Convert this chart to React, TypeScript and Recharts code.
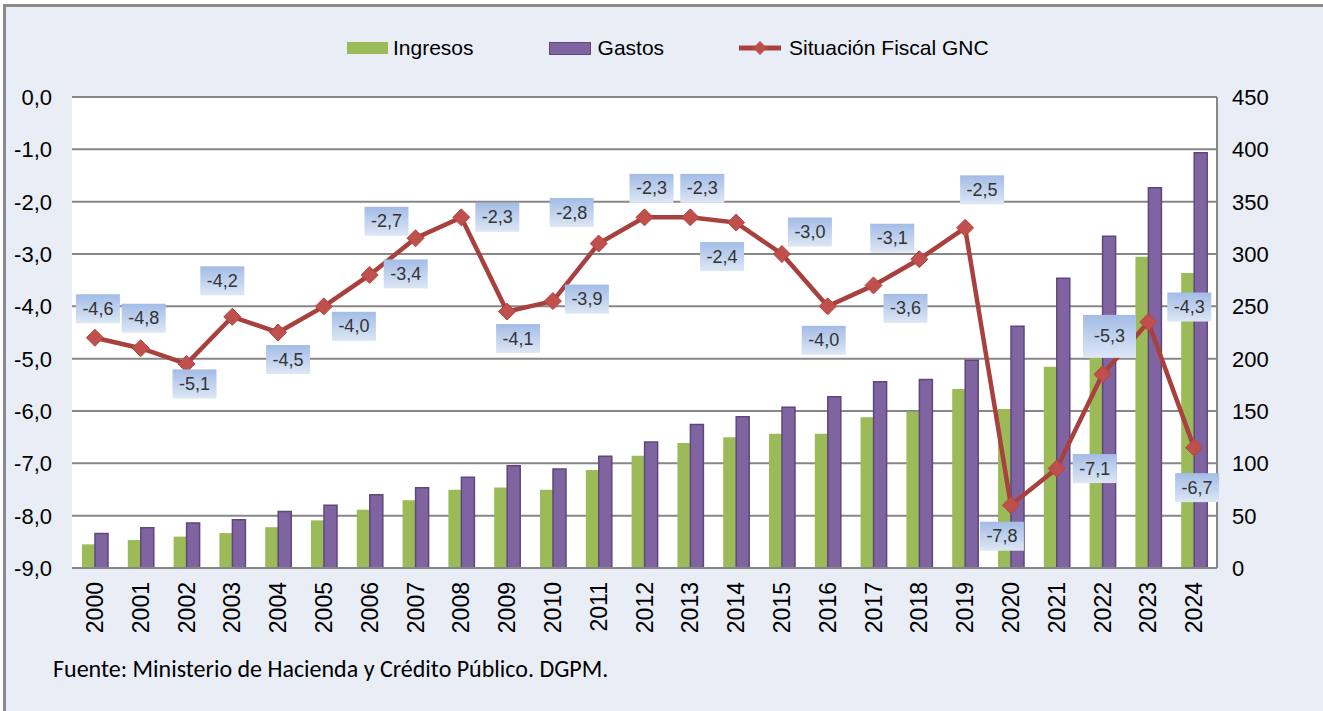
import { ComposedChart, Bar, Line, XAxis, YAxis, CartesianGrid } from 'recharts'

const YEARS = [
  '2000', '2001', '2002', '2003', '2004', '2005', '2006', '2007', '2008', '2009',
  '2010', '2011', '2012', '2013', '2014', '2015', '2016', '2017', '2018', '2019',
  '2020', '2021', '2022', '2023', '2024',
]

// billones de pesos, eje derecho
const INGRESOS = [
  22.6, 26.7, 30, 33.4, 39, 45.5, 55.7, 64.7, 74.8, 77,
  74.8, 93.6, 107.3, 119.4, 125, 128.3, 128.3, 144, 149.3, 171,
  152, 192.3, 240, 297.4, 281.8,
]
const GASTOS = [
  33, 38.5, 43, 46, 54, 60, 70, 76.7, 86.6, 97.7,
  94.6, 106.7, 120.4, 137, 144.5, 153.5, 163.7, 178, 180, 198.5,
  231, 276.8, 317, 363.3, 396.8,
]

// % del PIB, eje izquierdo
const SITUACION = [
  -4.6, -4.8, -5.1, -4.2, -4.5, -4.0, -3.4, -2.7, -2.3, -4.1,
  -3.9, -2.8, -2.3, -2.3, -2.4, -3.0, -4.0, -3.6, -3.1, -2.5,
  -7.8, -7.1, -5.3, -4.3, -6.7,
]

const LEFT_TICKS = [0, -1, -2, -3, -4, -5, -6, -7, -8, -9]
const RIGHT_TICKS = [0, 50, 100, 150, 200, 250, 300, 350, 400, 450]

// where each data label box sits relative to its point [dx, dy]
const LABEL_OFFSET: [number, number][] = [
  [3, -29], [3, -30], [8, 20], [-10, -36], [10, 27], [30, 20], [36, -1], [-29, -17],
  [36, 0], [11, 27], [34, -2], [-27, -31], [7, -29], [12, -29], [-14, 34], [28, -22],
  [-4, 34], [32, 23], [-27, -21], [17, -38], [-9, 31], [38, 0], [7, -38], [41, -15],
  [3, 40],
]

const data = YEARS.map((year, i) => ({
  year,
  ingresos: INGRESOS[i],
  gastos: GASTOS[i],
  fiscal: SITUACION[i],
}))

const ARIAL = "'Liberation Sans', Arial, sans-serif"
const GREEN = '#9BBB59'
const PURPLE = '#8064A2'
const RED_LINE = '#A8403D'
const RED_DOT = '#C0504D'
const GRID = '#878787'

const fmt = (v: number) => v.toFixed(1).replace('.', ',')

// eslint-disable-next-line @typescript-eslint/no-explicit-any
function LeftTick({ x, y, payload }: any) {
  return (
    <text x={x} y={y} dy={8} textAnchor="end" fontSize={22} fontFamily={ARIAL} fill="#000">
      {fmt(payload.value)}
    </text>
  )
}

// eslint-disable-next-line @typescript-eslint/no-explicit-any
function RightTick({ x, y, payload }: any) {
  return (
    <text x={x} y={y} dy={8} textAnchor="start" fontSize={22} fontFamily={ARIAL} fill="#000">
      {payload.value}
    </text>
  )
}

// eslint-disable-next-line @typescript-eslint/no-explicit-any
function YearTick({ x, y, payload }: any) {
  const bx = x + 8
  return (
    <text
      x={bx}
      y={y}
      textAnchor="end"
      fontSize={23}
      fontFamily={ARIAL}
      fill="#000"
      transform={`rotate(-90, ${bx}, ${y})`}
    >
      {payload.value}
    </text>
  )
}

// eslint-disable-next-line @typescript-eslint/no-explicit-any
function Diamond({ cx, cy, index }: any) {
  if (cx == null || cy == null) return null
  const r = 8.5
  return (
    <path
      key={index}
      d={`M${cx},${cy - r} L${cx + r},${cy} L${cx},${cy + r} L${cx - r},${cy} Z`}
      fill={RED_DOT}
      stroke="#B5443F"
      strokeWidth={1}
    />
  )
}

// eslint-disable-next-line @typescript-eslint/no-explicit-any
function BoxLabel({ x, y, value, index }: any) {
  if (x == null || y == null) return null
  const [dx, dy] = LABEL_OFFSET[index] ?? [0, -30]
  const big = index === 22
  const w = big ? 53 : 44
  const h = big ? 43 : 29
  const cx = x + dx
  const cy = y + dy
  const id = `lblgrad${index}`
  return (
    <g key={`lbl${index}`}>
      <defs>
        <linearGradient id={id} x1="0" y1="0" x2="0" y2="1">
          <stop offset="0%" stopColor="#A3BCE6" />
          <stop offset="100%" stopColor="#DDE7F5" />
        </linearGradient>
      </defs>
      <rect x={cx - w / 2} y={cy - h / 2} width={w} height={h} fill={`url(#${id})`} />
      <text
        x={cx}
        y={cy}
        dy={6}
        textAnchor="middle"
        fontSize={18}
        fontFamily={ARIAL}
        fill="#333"
      >
        {fmt(value)}
      </text>
    </g>
  )
}

function LegendRow() {
  const text = { fontFamily: ARIAL, fontSize: 21, color: '#000', lineHeight: '24px' }
  return (
    <div
      style={{
        position: 'absolute',
        left: 347,
        top: 36,
        display: 'flex',
        alignItems: 'center',
      }}
    >
      <div style={{ width: 41, height: 12, background: GREEN }} />
      <span style={{ ...text, marginLeft: 5 }}>Ingresos</span>
      <div
        style={{
          width: 40,
          height: 11,
          background: PURPLE,
          border: '1px solid #5D4878',
          marginLeft: 75,
        }}
      />
      <span style={{ ...text, marginLeft: 7 }}>Gastos</span>
      <svg width={42} height={18} style={{ marginLeft: 75 }}>
        <line x1={0} y1={9} x2={42} y2={9} stroke={RED_LINE} strokeWidth={5} />
        <path d="M21,2 L28,9 L21,16 L14,9 Z" fill={RED_DOT} />
      </svg>
      <span style={{ ...text, marginLeft: 8 }}>Situación Fiscal GNC</span>
    </div>
  )
}

export default function App() {
  return (
    <div
      style={{
        position: 'absolute',
        left: 0,
        top: 0,
        width: 1323,
        height: 711,
        background: '#fff',
        overflow: 'hidden',
      }}
    >
      <div
        style={{
          position: 'absolute',
          left: 3,
          top: 4,
          width: 1330,
          height: 720,
          background: '#E9EEF6',
          borderTop: '3px solid #8A8A8A',
          borderLeft: '3px solid #8A8A8A',
        }}
      />
      <LegendRow />
      <div style={{ position: 'absolute', left: 0, top: 0 }}>
        <ComposedChart
          width={1323}
          height={711}
          data={data}
          margin={{ top: 97, right: 0, bottom: 73, left: 0 }}
          barGap={0}
        >
          <CartesianGrid
            yAxisId="left"
            vertical={false}
            stroke={GRID}
            strokeWidth={2}
            fill="#FFFFFF"
            fillOpacity={1}
          />
          <XAxis
            dataKey="year"
            height={70}
            interval={0}
            tickSize={0}
            tickMargin={14}
            tick={<YearTick />}
            axisLine={{ stroke: GRID, strokeWidth: 2 }}
          />
          <YAxis
            yAxisId="left"
            orientation="left"
            width={72}
            domain={[-9, 0]}
            ticks={LEFT_TICKS}
            interval={0}
            tickSize={0}
            tickMargin={20}
            axisLine={false}
            tick={<LeftTick />}
          />
          <YAxis
            yAxisId="right"
            orientation="right"
            width={106}
            domain={[0, 450]}
            ticks={RIGHT_TICKS}
            interval={0}
            tickSize={0}
            tickMargin={15}
            axisLine={{ stroke: GRID, strokeWidth: 2 }}
            tick={<RightTick />}
          />
          <Bar
            yAxisId="right"
            dataKey="ingresos"
            name="Ingresos"
            fill={GREEN}
            barSize={13}
            isAnimationActive={false}
          />
          <Bar
            yAxisId="right"
            dataKey="gastos"
            name="Gastos"
            fill={PURPLE}
            stroke="#5D4878"
            strokeWidth={1.5}
            barSize={13}
            isAnimationActive={false}
          />
          <Line
            yAxisId="left"
            dataKey="fiscal"
            name="Situación Fiscal GNC"
            stroke={RED_LINE}
            strokeWidth={4.5}
            dot={<Diamond />}
            activeDot={false}
            label={<BoxLabel />}
            isAnimationActive={false}
          />
        </ComposedChart>
      </div>
      <div
        style={{
          position: 'absolute',
          left: 53,
          top: 654,
          fontFamily: "Carlito, Calibri, Lato, sans-serif",
          fontSize: 24,
          lineHeight: '29px',
          color: '#000',
          whiteSpace: 'nowrap',
        }}
      >
        Fuente: Ministerio de Hacienda y Crédito Público. DGPM.
      </div>
    </div>
  )
}
